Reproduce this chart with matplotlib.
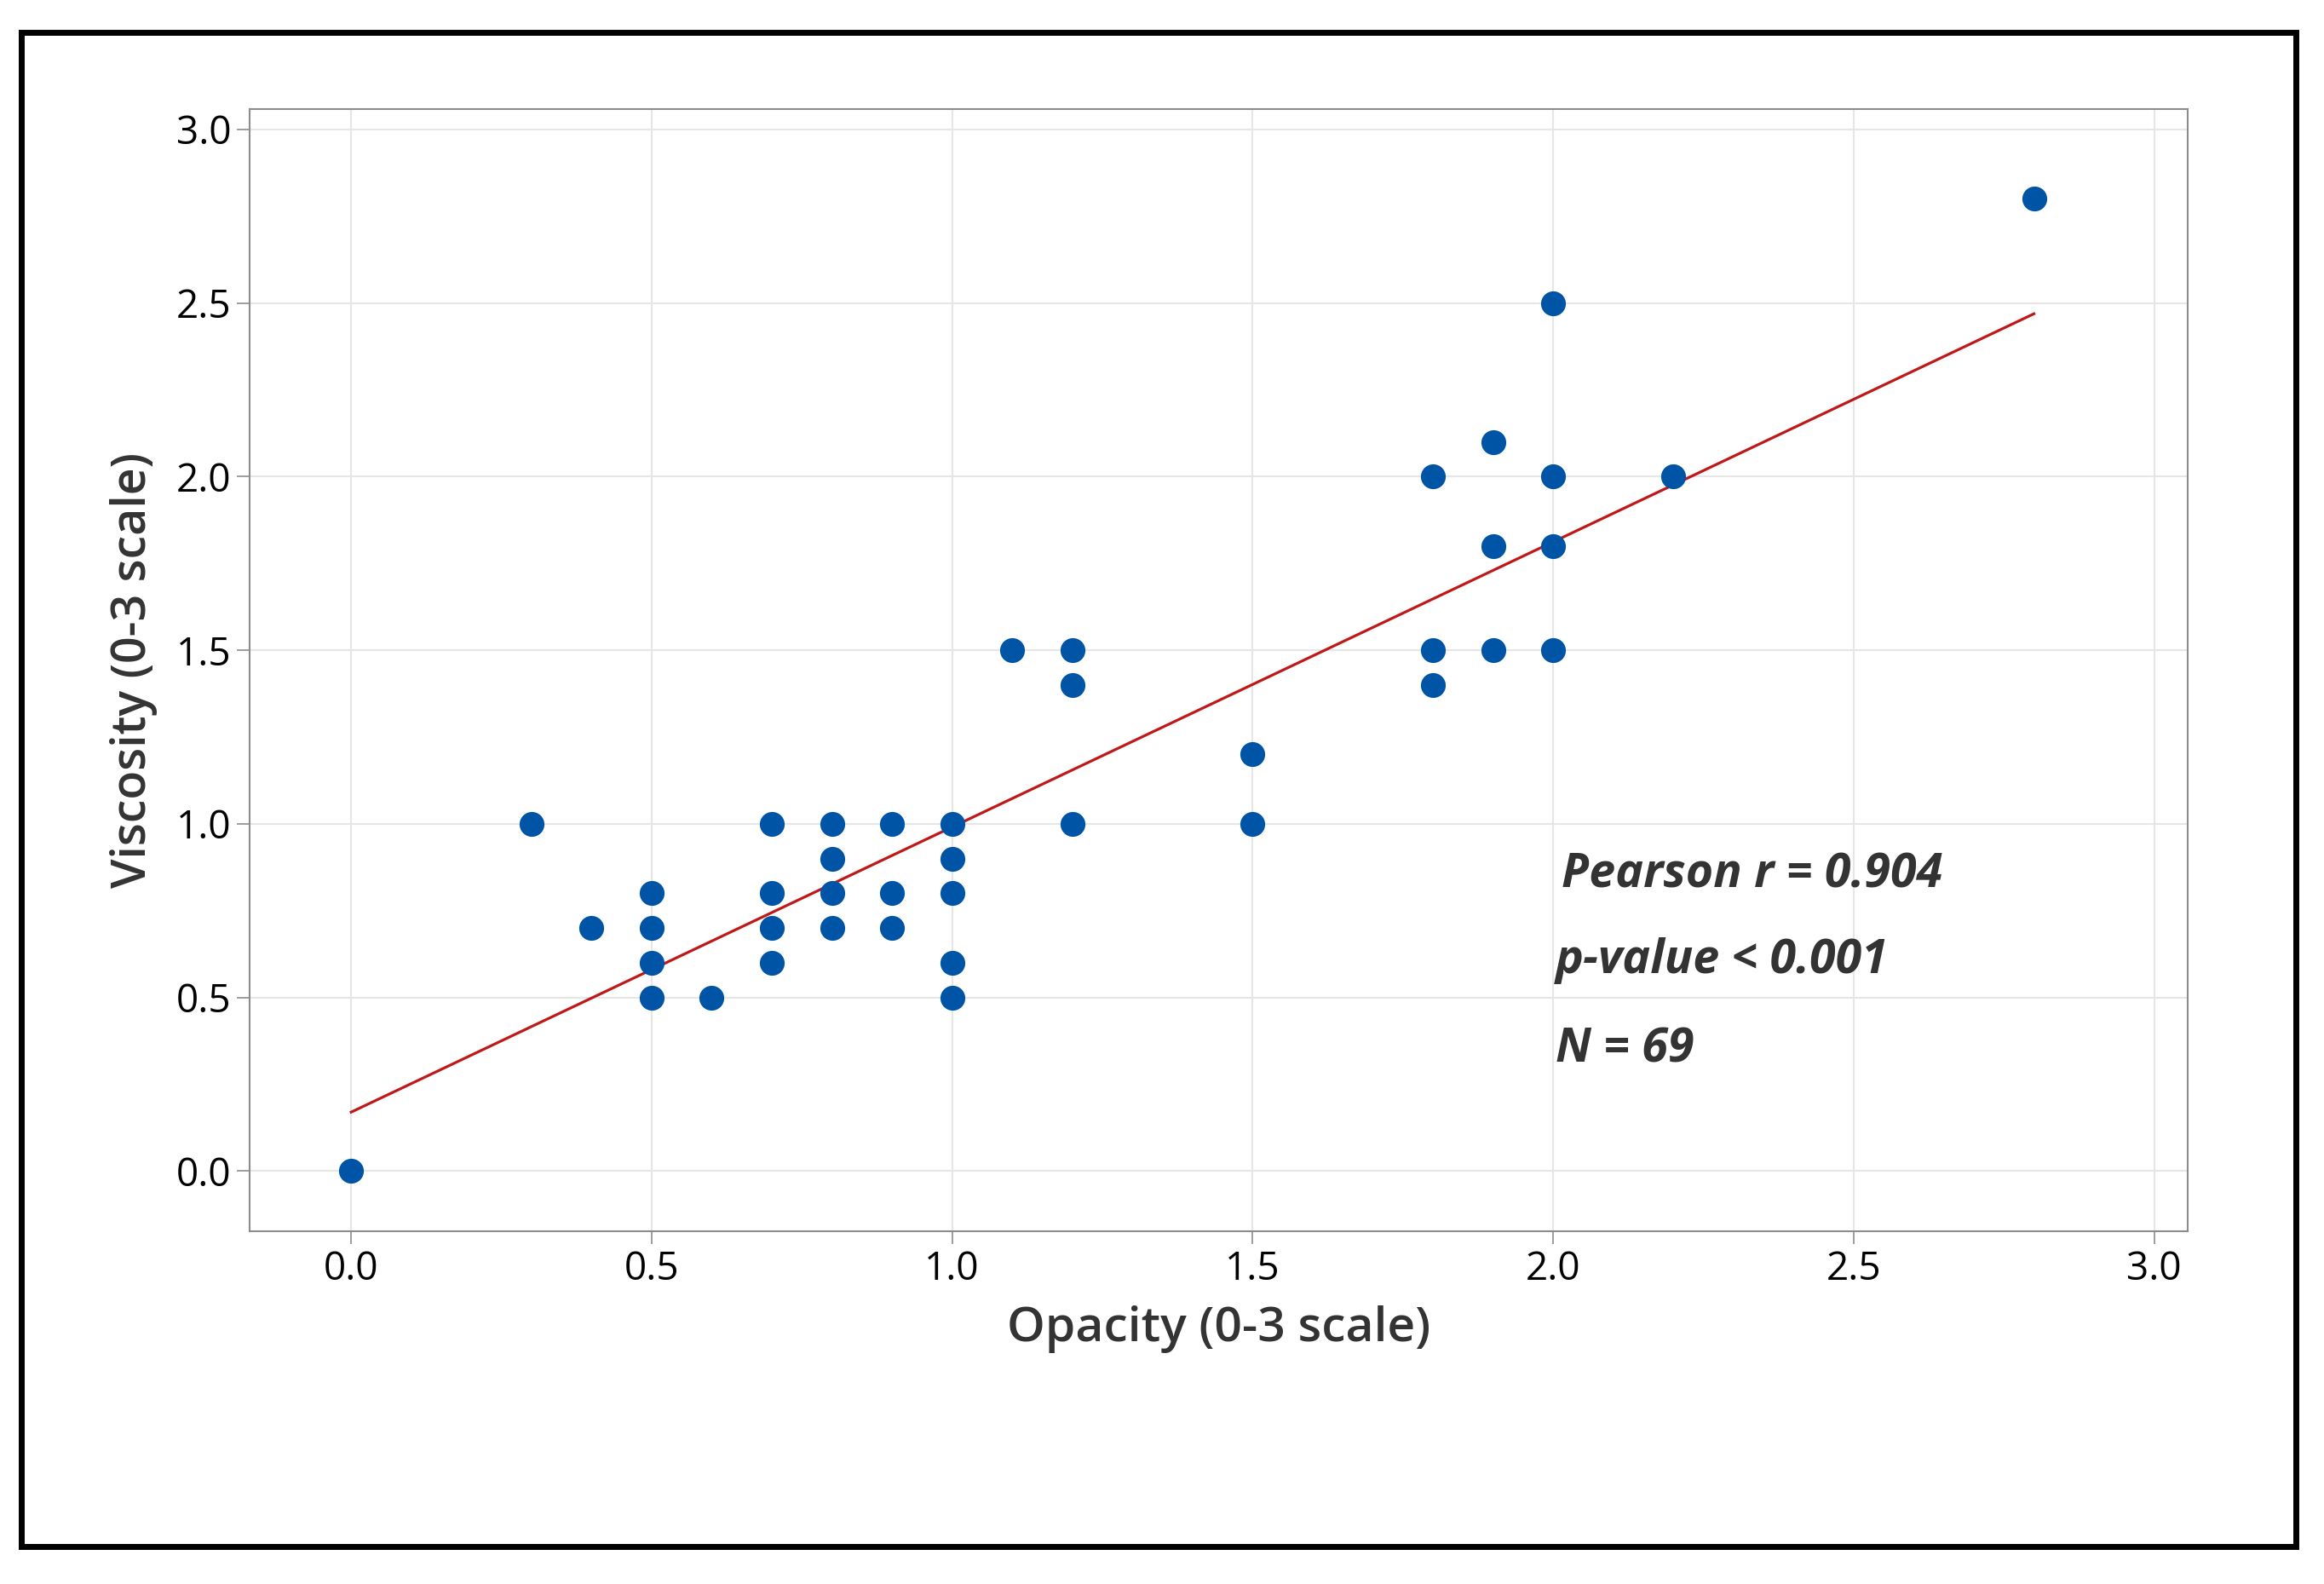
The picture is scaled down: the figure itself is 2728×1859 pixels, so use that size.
import numpy as np
import matplotlib
matplotlib.use("Agg")
import matplotlib.pyplot as plt
from matplotlib.patches import Rectangle

# data (overlapping points are drawn once)
opacity = [0.0, 0.3, 0.4,
           0.5, 0.5, 0.5, 0.5,
           0.6,
           0.7, 0.7, 0.7, 0.7,
           0.8, 0.8, 0.8, 0.8,
           0.9, 0.9, 0.9,
           1.0, 1.0, 1.0, 1.0, 1.0,
           1.1,
           1.2, 1.2, 1.2,
           1.5, 1.5,
           1.8, 1.8, 1.8,
           1.9, 1.9, 1.9,
           2.0, 2.0, 2.0, 2.0,
           2.2, 2.8]
viscosity = [0.0, 1.0, 0.7,
             0.8, 0.7, 0.6, 0.5,
             0.5,
             1.0, 0.8, 0.7, 0.6,
             1.0, 0.9, 0.8, 0.7,
             1.0, 0.8, 0.7,
             1.0, 0.9, 0.8, 0.6, 0.5,
             1.5,
             1.5, 1.4, 1.0,
             1.2, 1.0,
             2.0, 1.5, 1.4,
             2.1, 1.8, 1.5,
             2.5, 2.0, 1.8, 1.5,
             2.0, 2.8]
fit_intercept = 0.17
fit_slope = 0.821
stats_lines = ["Pearson r = 0.904", "p-value < 0.001", "N = 69"]
ticks = [0.0, 0.5, 1.0, 1.5, 2.0, 2.5, 3.0]

plt.rcParams['font.family'] = ['Open Sans', 'DejaVu Sans']

fig = plt.figure(figsize=(27.28, 18.59), dpi=100)
ax = fig.add_axes([0.1074, 0.2227, 0.8340, 0.7084])

ax.grid(True, color='#E6E6E6', lw=1.5, zorder=0)
ax.set_axisbelow(True)

ax.scatter(opacity, viscosity, s=21**2, color='#0054A6', linewidths=0, zorder=3)

fx = np.array([min(opacity), max(opacity)])
ax.plot(fx, fit_intercept + fit_slope*fx, color='#C01818', lw=2.3, zorder=2)

ax.set_xlim(-0.169, 3.056)
ax.set_ylim(-0.173, 3.058)
ax.set_xticks(ticks)
ax.set_yticks(ticks)
ax.set_xticklabels([f"{t:.1f}" for t in ticks])
ax.set_yticklabels([f"{t:.1f}" for t in ticks])
ax.tick_params(axis='both', length=10.5, width=1.2, color='#8C8C8C',
               labelsize=33, labelcolor='black', pad=5)
for s in ax.spines.values():
    s.set_color('#8C8C8C')
    s.set_linewidth(1.5)

ax.set_xlabel("Opacity (0-3 scale)", fontsize=41, color='#333333',
              fontweight='semibold', labelpad=14)
ax.set_ylabel("Viscosity (0-3 scale)", fontsize=40, color='#333333',
              fontweight='semibold', labelpad=16)

# stats text
ys = [0.816, 0.570, 0.313]
xs = [2.014, 2.004, 2.004]
for t, x, y in zip(stats_lines, xs, ys):
    ax.text(x, y, t, fontsize=40, fontweight='bold', fontstyle='italic',
            color='#333333', ha='left', va='baseline', zorder=4)

# outer black frame
fig.patches.append(Rectangle((25/2728, 1-1815/1859), (2695-25)/2728, (1815-38)/1859,
                             transform=fig.transFigure, fill=False,
                             edgecolor='black', lw=5))

fig.savefig("out.png", dpi=100)
